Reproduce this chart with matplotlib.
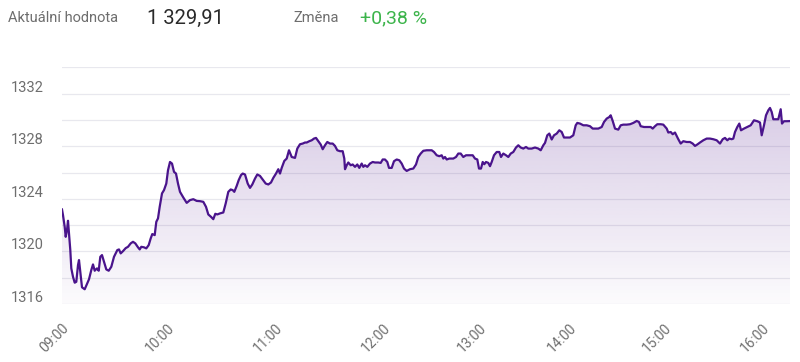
import numpy as np
import matplotlib
matplotlib.use("Agg")
import matplotlib.pyplot as plt
from matplotlib.transforms import blended_transform_factory

plt.rcParams['font.family'] = ['Roboto', 'DejaVu Sans']

# ---- data: ordinal position along the trading session, index value ----
pos = [0, 1, 2.7, 3.7, 5, 6, 7, 8.3, 9.3, 11,
       12.7, 14.3, 16, 17, 18.3, 20, 22.7, 25.3, 27, 29.3,
       31, 32.7, 35, 36.7, 38.3, 40, 42, 44.3, 46.7, 49.3,
       52, 55.3, 57, 58.7, 61, 63.7, 66, 68.7, 71, 73.3,
       76, 77.7, 79.3, 82, 84.3, 86.7, 88.7, 90.3, 92.7, 94.3,
       96, 97.7, 100, 102, 104.3, 106, 108, 110, 112, 114,
       116, 118, 121.3, 124.7, 128, 131.3, 134.7, 138, 141.3, 144,
       146.3, 149, 151.3, 153.3, 155.3, 158, 161.3, 163.7, 166.3, 168.7,
       170.7, 172.3, 174.7, 176.7, 179, 180.7, 183, 185.7, 188, 190.3,
       193, 195.3, 198, 200.7, 203.7, 206.3, 209, 211.3, 214, 216.3,
       218, 219.7, 222.3, 224.7, 227, 229.7, 233, 235.3, 238, 240.7,
       243, 244.7, 247.3, 249.7, 252, 254, 256.3, 258.7, 260.7, 263,
       265.3, 268, 270.7, 273, 275.3, 278, 280.7, 282.3, 283, 284.7,
       286.3, 288.7, 290.7, 293, 295.3, 297.3, 299.7, 301.3, 303, 305.3,
       308, 310.7, 313, 316.3, 318.7, 320.7, 323, 325.3, 327, 329.7,
       332, 334.7, 337.3, 339.7, 342, 344.7, 348, 351.3, 354, 356.3,
       358.7, 361.3, 364.7, 369.7, 372, 374.7, 377.3, 379.7, 381.3, 383,
       384.7, 387.3, 391.3, 394, 396.3, 398.7, 401.3, 404, 407.3, 410.7,
       413, 415.3, 417, 419, 420.7, 422.3, 424, 426.3, 428, 429.7,
       432, 434.7, 437.3, 439, 441.3, 444, 446.3, 448.7, 451.3, 454,
       456.3, 458.7, 461.3, 464, 466.3, 469.7, 473, 476.3, 478.7, 481.3,
       483, 485.3, 487.3, 489.7, 492, 494.7, 497.3, 499.7, 502, 504.7,
       508, 511.3, 513.7, 515.3, 518, 521.3, 524.7, 528, 530.7, 533,
       536.3, 539.7, 542, 544.7, 547.3, 548.7, 550.7, 553, 556.3, 558.7,
       561.3, 564.7, 568, 571.3, 574.7, 577, 578.7, 582, 585.3, 588.7,
       590.7, 593, 595.3, 598.7, 601.3, 604.7, 606.3, 608.7, 610.7, 613,
       616.3, 618.7, 621.3, 624.7, 628, 630.7, 633, 635.3, 638, 641.3,
       644.7, 648, 651.3, 654.7, 658, 660.7, 663, 665.3, 667.3, 669.7,
       671.3, 673, 675.3, 677.3, 679, 682, 685.3, 688.7, 692, 695.3,
       698, 699.7, 702, 704, 706.3, 708, 709.7, 711.3, 714, 716.3,
       718.7, 720, 722, 724.7, 728]
vals = [1323.19, 1322.76, 1321.87, 1321.11, 1321.62, 1322.33, 1321.39, 1320.10, 1318.71, 1318.07,
        1317.62, 1317.69, 1318.96, 1319.34, 1318.45, 1317.27, 1317.12, 1317.57, 1317.88, 1318.58,
        1319.01, 1318.53, 1318.71, 1318.53, 1319.59, 1319.72, 1319.21, 1318.63, 1318.53, 1318.83,
        1319.59, 1320.10, 1320.15, 1319.85, 1320.02, 1320.25, 1320.35, 1320.61, 1320.73, 1320.61,
        1320.31, 1320.15, 1320.35, 1320.31, 1320.23, 1320.48, 1320.99, 1321.32, 1321.24, 1322.25,
        1322.51, 1323.39, 1324.41, 1324.66, 1325.16, 1326.17, 1326.80, 1326.68, 1326.05, 1325.92,
        1325.16, 1324.53, 1324.10, 1323.69, 1323.90, 1323.97, 1323.84, 1323.82, 1323.77, 1323.39,
        1322.81, 1322.63, 1322.45, 1322.86, 1322.81, 1322.89, 1322.96, 1323.65, 1324.53, 1324.71,
        1324.66, 1324.53, 1324.98, 1325.42, 1325.80, 1325.92, 1325.85, 1325.16, 1324.83, 1325.09,
        1325.54, 1325.85, 1325.74, 1325.47, 1325.16, 1325.09, 1325.24, 1325.59, 1325.92, 1326.25,
        1325.92, 1326.35, 1326.88, 1327.06, 1327.69, 1327.18, 1327.11, 1327.82, 1328.15, 1328.20,
        1328.28, 1328.28, 1328.38, 1328.45, 1328.58, 1328.63, 1328.38, 1328.13, 1327.77, 1328.07,
        1328.32, 1328.20, 1328.20, 1328.02, 1327.69, 1327.62, 1327.62, 1327.06, 1326.25, 1326.55,
        1326.76, 1326.55, 1326.61, 1326.43, 1326.61, 1326.35, 1326.68, 1326.43, 1326.55, 1326.43,
        1326.68, 1326.80, 1326.76, 1326.76, 1326.73, 1326.99, 1326.99, 1326.80, 1326.35, 1326.35,
        1326.86, 1326.99, 1326.93, 1326.68, 1326.30, 1326.12, 1326.25, 1326.30, 1326.61, 1327.18,
        1327.44, 1327.65, 1327.69, 1327.69, 1327.56, 1327.31, 1327.24, 1327.31, 1327.06, 1327.18,
        1326.99, 1327.06, 1327.06, 1327.18, 1327.44, 1327.44, 1327.18, 1327.31, 1327.31, 1327.31,
        1327.06, 1326.99, 1326.30, 1326.30, 1326.80, 1326.63, 1326.80, 1326.73, 1326.48, 1326.80,
        1327.31, 1327.56, 1327.56, 1327.18, 1327.44, 1327.31, 1327.18, 1327.44, 1327.56, 1327.90,
        1328.07, 1327.90, 1327.82, 1327.94, 1327.82, 1327.82, 1327.90, 1327.82, 1327.69, 1328.07,
        1328.25, 1328.83, 1328.96, 1328.51, 1328.83, 1328.96, 1329.21, 1329.08, 1328.66, 1328.66,
        1328.66, 1328.83, 1329.59, 1329.77, 1329.72, 1329.59, 1329.59, 1329.52, 1329.34, 1329.34,
        1329.34, 1329.46, 1329.84, 1330.10, 1330.22, 1330.35, 1329.92, 1329.34, 1329.26, 1329.59,
        1329.64, 1329.64, 1329.67, 1329.77, 1329.92, 1329.84, 1329.52, 1329.46, 1329.46, 1329.46,
        1329.34, 1329.52, 1329.67, 1329.67, 1329.64, 1329.34, 1329.04, 1329.08, 1328.91, 1329.04,
        1328.53, 1328.20, 1328.38, 1328.32, 1328.32, 1328.20, 1328.02, 1328.13, 1328.28, 1328.45,
        1328.58, 1328.58, 1328.53, 1328.45, 1328.20, 1328.53, 1328.63, 1328.45, 1328.58, 1328.53,
        1328.58, 1329.08, 1329.46, 1329.72, 1329.21, 1329.34, 1329.46, 1329.59, 1329.97, 1329.90,
        1329.80, 1328.83, 1329.59, 1330.35, 1330.73, 1330.91, 1330.60, 1330.05, 1330.05, 1330.05,
        1330.81, 1329.72, 1329.90, 1329.90, 1329.91]

tick_pos = [0, 105, 213, 321, 417, 507, 602, 700]
tick_labels = ["09:00", "10:00", "11:00", "12:00", "13:00", "14:00", "15:00", "16:00"]
y_labels = [1316, 1320, 1324, 1328, 1332]
y_grid = [1316, 1318, 1320, 1322, 1324, 1326, 1328, 1330, 1332, 1334]

header_label = "Aktuální hodnota"
header_value = "1 329,91"
change_label = "Změna"
change_value = "+0,38 %"

LINE = "#4a148c"
GRAY = "#6e6e6e"

fig = plt.figure(figsize=(8.0, 3.62), dpi=100)
ax = fig.add_axes([62/800, (362-304)/362, (790-62)/800, (304-67.3)/362])
ax.set_xlim(0, 728)
ax.set_ylim(1316, 1334)

for g in y_grid:
    ax.axhline(g, color="#e8e8ee", lw=0.9, zorder=0)

# gradient fill under the line
grad = np.linspace(0, 1, 256).reshape(-1, 1)
rgba = np.zeros((256, 1, 4))
c = matplotlib.colors.to_rgb("#5e2a96")
rgba[..., 0], rgba[..., 1], rgba[..., 2] = c
rgba[..., 3] = 0.02 + 0.26 * grad
img = ax.imshow(rgba, extent=[0, 728, 1316, 1334], origin="lower", aspect="auto", zorder=1)
poly = ax.fill_between(pos, vals, 1316, color="none", lw=0)
path = poly.get_paths()[0]
img.set_clip_path(path, transform=ax.transData)

ax.plot(pos, vals, color=LINE, lw=1.6, solid_joinstyle="round", zorder=3)

for s in ax.spines.values():
    s.set_visible(False)
ax.set_yticks([])
ax.set_xticks(tick_pos)
ax.set_xticklabels(tick_labels, rotation=45, ha="right", va="top", rotation_mode="anchor",
                   fontsize=10, color=GRAY)
ax.tick_params(axis="x", length=0, pad=12)

trans = blended_transform_factory(fig.transFigure, ax.transData)
for v in y_labels:
    ax.annotate(str(v), xy=(11/800, v), xycoords=trans, xytext=(0, 4.3), textcoords="offset points",
                ha="left", va="center", fontsize=10.5, color=GRAY, annotation_clip=False)

fig.text(8/800, 1 - 18/362, header_label, fontsize=10.5, color=GRAY, va="center", ha="left")
fig.text(147/800, 1 - 18/362, header_value, fontsize=14.5, color="#2a2a2a", va="center", ha="left")
fig.text(293/800, 1 - 18/362, change_label, fontsize=10.5, color=GRAY, va="center", ha="left")
fig.text(360/800, 1 - 18/362, change_value, fontsize=14, color="#3cb44b", va="center", ha="left")

fig.savefig("out.png", dpi=100, facecolor="white")
